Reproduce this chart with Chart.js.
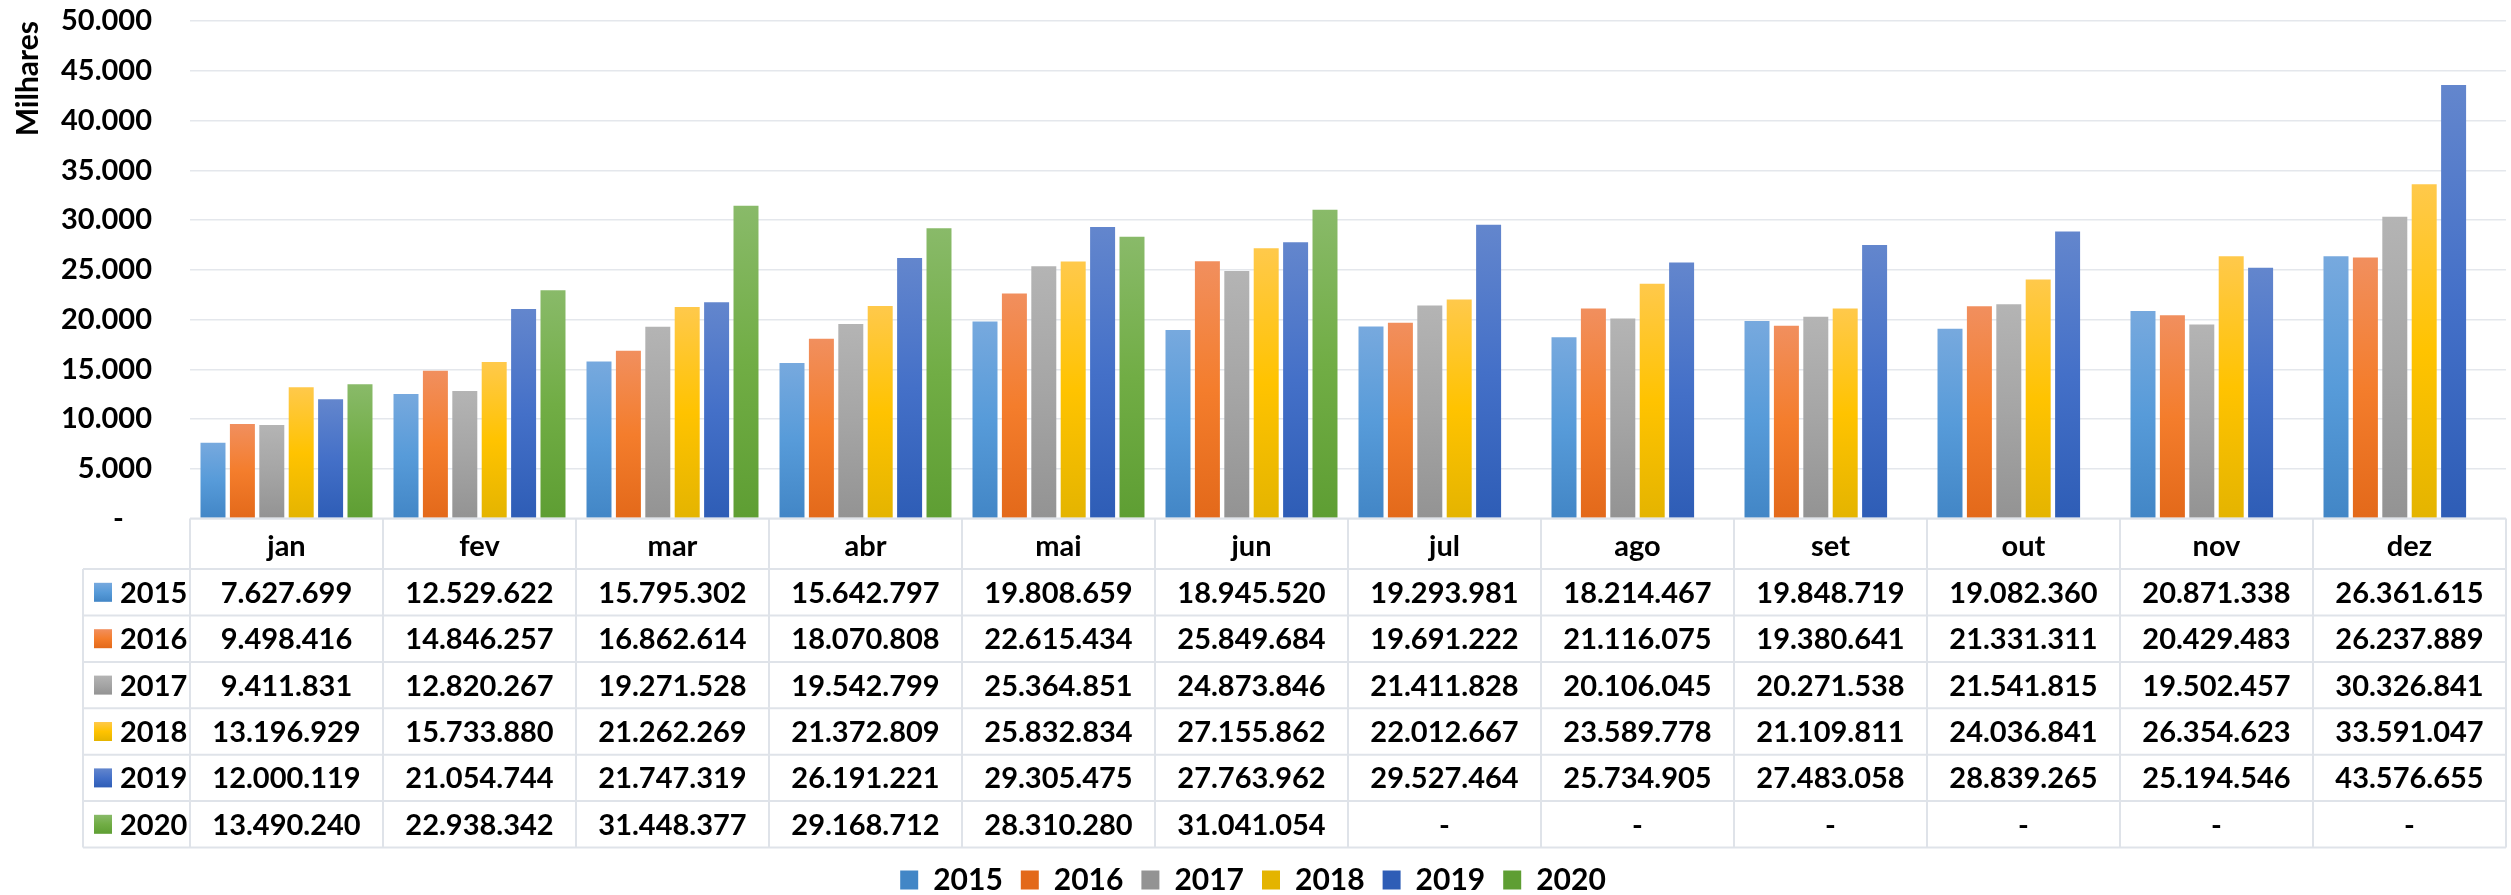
<!DOCTYPE html>
<html>
<head>
<meta charset="utf-8">
<script src="https://cdn.jsdelivr.net/npm/chart.js@4/dist/chart.umd.min.js"></script>
<style>
  html, body { margin: 0; padding: 0; background: #fff; }
  #wrap { width: 2511px; height: 895px; position: relative; }
</style>
</head>
<body>
<div id="wrap"><canvas id="arrecChart"></canvas></div>
<script>
// meses e valores (R$), o gráfico mostra em milhares
const months = ['jan', 'fev', 'mar', 'abr', 'mai', 'jun', 'jul', 'ago', 'set', 'out', 'nov', 'dez'];
const years = ['2015', '2016', '2017', '2018', '2019', '2020'];
const v2015 = [7627699, 12529622, 15795302, 15642797, 19808659, 18945520, 19293981, 18214467, 19848719, 19082360, 20871338, 26361615];
const v2016 = [9498416, 14846257, 16862614, 18070808, 22615434, 25849684, 19691222, 21116075, 19380641, 21331311, 20429483, 26237889];
const v2017 = [9411831, 12820267, 19271528, 19542799, 25364851, 24873846, 21411828, 20106045, 20271538, 21541815, 19502457, 30326841];
const v2018 = [13196929, 15733880, 21262269, 21372809, 25832834, 27155862, 22012667, 23589778, 21109811, 24036841, 26354623, 33591047];
const v2019 = [12000119, 21054744, 21747319, 26191221, 29305475, 27763962, 29527464, 25734905, 27483058, 28839265, 25194546, 43576655];
const v2020 = [13490240, 22938342, 31448377, 29168712, 28310280, 31041054, null, null, null, null, null, null];
const yTicks = [0, 5000, 10000, 15000, 20000, 25000, 30000, 35000, 40000, 45000, 50000];

const series = [v2015, v2016, v2017, v2018, v2019, v2020];
// topo, meio, base do gradiente de cada ano
const shades = [
    ['#77a9de', '#579bd9', '#4286c6'],
    ['#f18f5e', '#f47d2c', '#e3691a'],
    ['#b4b4b4', '#a5a5a5', '#939393'],
    ['#ffc94b', '#ffc300', '#e4b400'],
    ['#6386cd', '#4470c8', '#2e5db6'],
    ['#89ba69', '#71ad45', '#5e9e33']
];

const FONT = 'Lato';
const fmt = n => String(n).replace(/\B(?=(\d{3})+(?!\d))/g, '.');

function barFill(s) {
    return function (c) {
        if (c.type !== 'data' || !c.parsed || c.parsed.y == null) return s[1];
        const y = c.chart.scales.y;
        if (!y) return s[1];
        const top = y.getPixelForValue(c.parsed.y);
        const base = y.getPixelForValue(0);
        if (!isFinite(top) || !isFinite(base) || top === base) return s[1];
        const g = c.chart.ctx.createLinearGradient(0, top, 0, base);
        g.addColorStop(0, s[0]);
        g.addColorStop(0.5, s[1]);
        g.addColorStop(1, s[2]);
        return g;
    };
}

// tabela de dados abaixo do gráfico (estilo Excel)
const dataTable = {
    id: 'dataTable',
    afterDraw(chart) {
        const ctx = chart.ctx;
        const x = chart.scales.x;
        const half = (x.getPixelForValue(1) - x.getPixelForValue(0)) / 2;
        const keyLeft = 83;
        const headTop = chart.chartArea.bottom;
        const headH = 50.5, rowH = 46.4;
        const firstRow = headTop + headH;
        const bottom = firstRow + rowH * years.length;
        const colLeft = x.getPixelForValue(0) - half;
        const colRight = x.getPixelForValue(months.length - 1) + half;

        ctx.save();
        ctx.strokeStyle = '#dfe3e9';
        ctx.lineWidth = 2;
        ctx.beginPath();
        ctx.moveTo(colLeft, headTop); ctx.lineTo(colRight, headTop);
        for (let r = 0; r <= years.length; r++) {
            const yy = firstRow + r * rowH;
            ctx.moveTo(keyLeft, yy); ctx.lineTo(colRight, yy);
        }
        for (let i = 0; i <= months.length; i++) {
            const xx = x.getPixelForValue(i) - half;
            ctx.moveTo(xx, headTop); ctx.lineTo(xx, bottom);
        }
        ctx.moveTo(keyLeft, firstRow); ctx.lineTo(keyLeft, bottom);
        ctx.stroke();

        ctx.fillStyle = '#000';
        ctx.font = 'bold 29px ' + FONT;
        ctx.textBaseline = 'alphabetic';
        years.forEach((yr, r) => {
            const mid = firstRow + r * rowH + rowH / 2;
            const g = ctx.createLinearGradient(0, mid - 9.5, 0, mid + 9.5);
            g.addColorStop(0, shades[r][0]);
            g.addColorStop(0.5, shades[r][1]);
            g.addColorStop(1, shades[r][2]);
            ctx.fillStyle = g;
            ctx.fillRect(keyLeft + 11, mid - 9.5, 18, 19);
            ctx.fillStyle = '#000';
            ctx.textAlign = 'left';
            ctx.fillText(yr, keyLeft + 37, mid + 10.5);
            ctx.textAlign = 'center';
            series[r].forEach((v, i) => {
                ctx.fillText(v == null ? '-' : fmt(v), x.getPixelForValue(i), mid + 10.5);
            });
        });
        ctx.restore();
    }
};

document.addEventListener('DOMContentLoaded', function () {
    Chart.defaults.font.family = FONT;
    Chart.defaults.font.weight = 'bold';
    Chart.defaults.color = '#000';

    new Chart(document.getElementById('arrecChart'), {
        type: 'bar',
        data: {
            labels: months,
            datasets: years.map((yr, k) => ({
                label: yr,
                data: series[k].map(v => v == null ? null : v / 1000),
                backgroundColor: barFill(shades[k]),
                borderWidth: 0,
                categoryPercentage: 0.914,
                barPercentage: 0.85
            }))
        },
        options: {
            responsive: true,
            maintainAspectRatio: false,
            animation: false,
            layout: { padding: { top: 21, right: 5, left: 0, bottom: -10 } },
            plugins: {
                legend: {
                    position: 'bottom',
                    labels: {
                        boxWidth: 18,
                        boxHeight: 19,
                        padding: 18,
                        font: { size: 30, weight: 'bold' },
                        color: '#000'
                    }
                },
                tooltip: { enabled: false }
            },
            scales: {
                x: {
                    grid: { display: false },
                    border: { display: false },
                    ticks: { font: { size: 29, weight: 'bold' }, padding: 3, color: '#000' },
                    afterFit(s) {
                        const lh = s.chart.legend ? s.chart.legend.height : 0;
                        s.height = s.chart.height - 518.6 - lh + 10;
                    }
                },
                y: {
                    min: 0,
                    max: 50000,
                    afterBuildTicks(s) { s.ticks = yTicks.map(v => ({ value: v })); },
                    grid: {
                        color: '#e4e7ec',
                        lineWidth: 1.5,
                        drawTicks: true,
                        tickLength: 38,
                        tickColor: 'rgba(0,0,0,0)'
                    },
                    border: { display: false },
                    ticks: {
                        padding: 0,
                        font: { size: 29, weight: 'bold' },
                        color: '#000',
                        callback: v => v === 0 ? '-    ' : fmt(v)
                    },
                    title: {
                        display: true,
                        text: 'Milhares',
                        align: 'end',
                        font: { size: 30, weight: 'bold' },
                        color: '#000',
                        padding: { top: 10, bottom: 0 }
                    },
                    afterFit(s) { s.width = 190; }
                }
            }
        },
        plugins: [dataTable]
    });
});
</script>
</body>
</html>
